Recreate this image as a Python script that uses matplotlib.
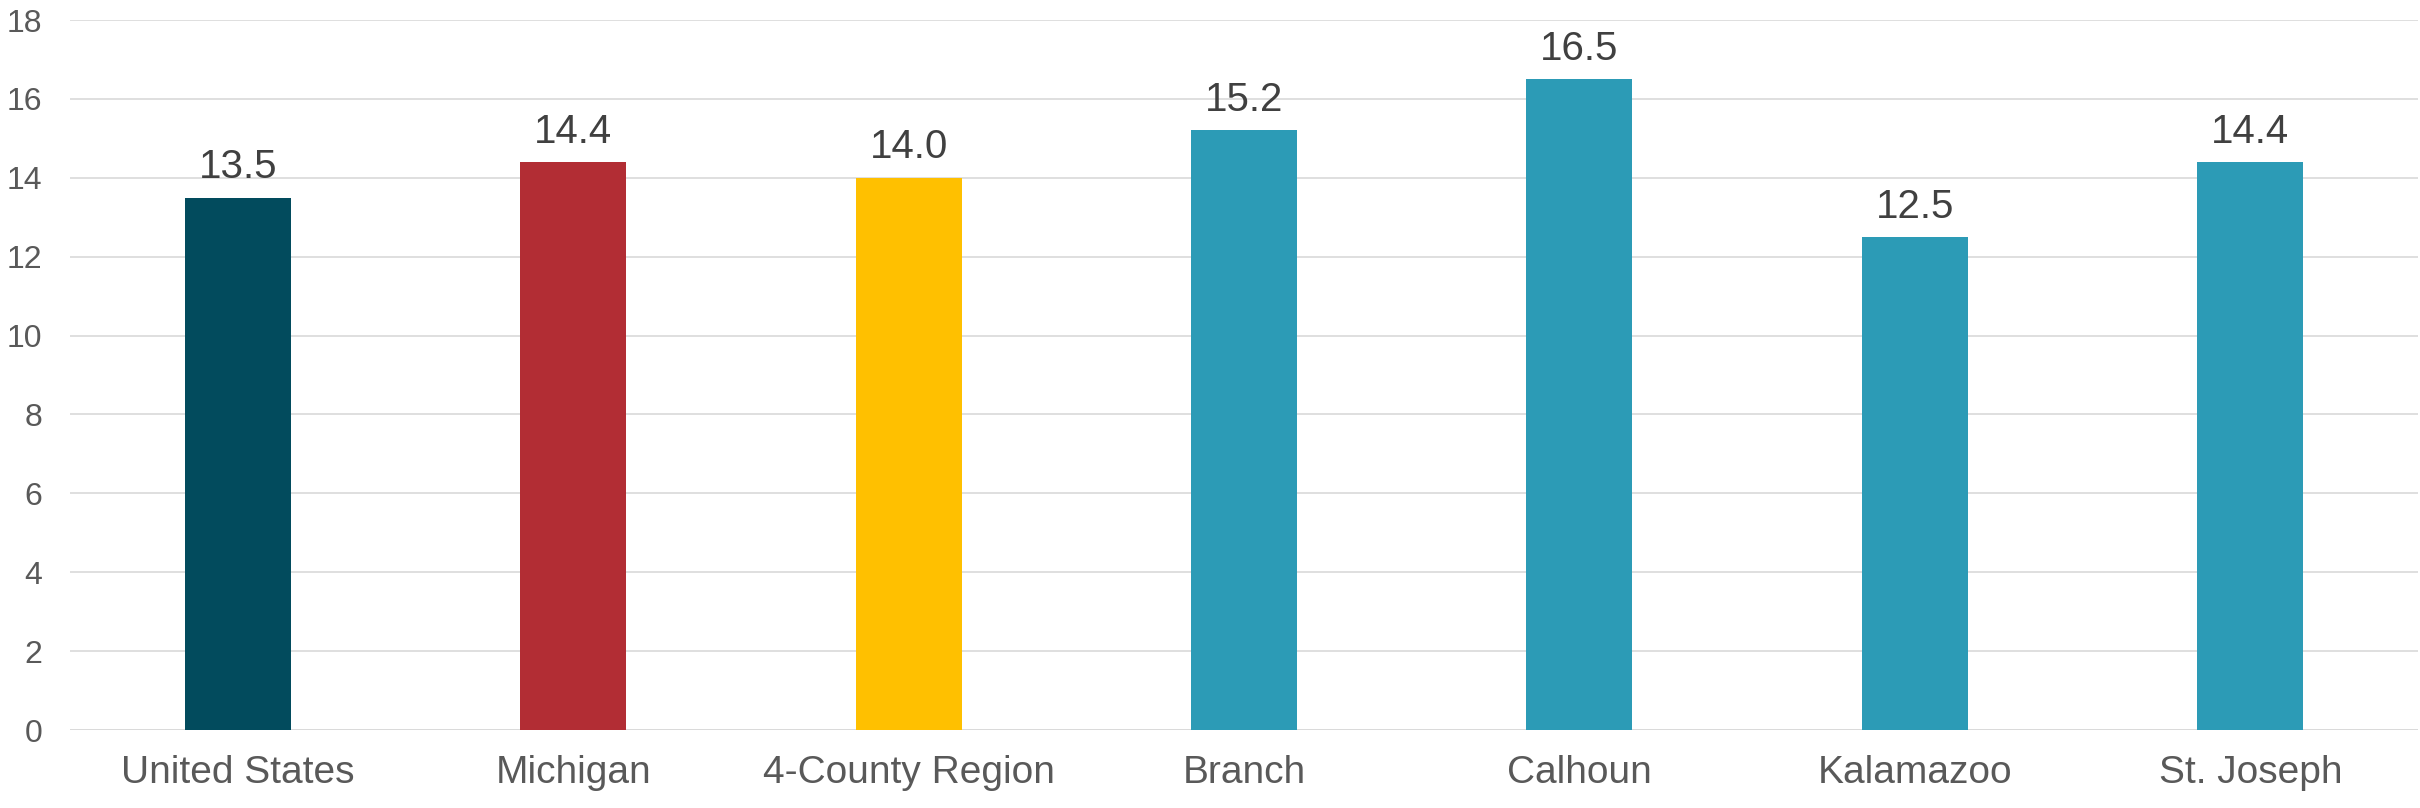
import matplotlib
matplotlib.use("Agg")
import matplotlib.pyplot as plt

categories = ["United States", "Michigan", "4-County Region", "Branch", "Calhoun", "Kalamazoo", "St. Joseph"]
values = [13.5, 14.4, 14.0, 15.2, 16.5, 12.5, 14.4]
colors = ["#024B5D", "#B22D34", "#FFC000", "#2C9BB6", "#2C9BB6", "#2C9BB6", "#2C9BB6"]
yticks = [0, 2, 4, 6, 8, 10, 12, 14, 16, 18]

plt.rcParams['font.family'] = ['Liberation Sans', 'DejaVu Sans']

fig = plt.figure(figsize=(24.2, 8.08), dpi=100)
ax = fig.add_axes([70/2420, 1 - 730/808, (2418-70)/2420, 710/808])

x = list(range(len(categories)))
bars = ax.bar(x, values, width=0.316, color=colors, zorder=3)
for xi, v in zip(x, values):
    ax.text(xi, v + 0.29, f"{v:.1f}", ha="center", va="bottom", fontsize=29, color="#404040")

ax.set_xlim(-0.5, len(categories) - 0.5)
ax.set_ylim(0, 18)
ax.set_yticks(yticks)
ax.set_yticklabels([str(t) for t in yticks], fontsize=23, color="#595959")
ax.set_xticks(x)
ax.set_xticklabels(categories, fontsize=28, color="#595959")
ax.tick_params(axis="y", length=0, pad=20)
ax.tick_params(axis="x", length=0, pad=18)
ax.grid(axis="y", color="#D9D9D9", linewidth=1.2, zorder=0)
for s in ax.spines.values():
    s.set_visible(False)
ax.axhline(0, color="#D9D9D9", linewidth=1.2, zorder=2)

fig.savefig("out.png", dpi=100)
